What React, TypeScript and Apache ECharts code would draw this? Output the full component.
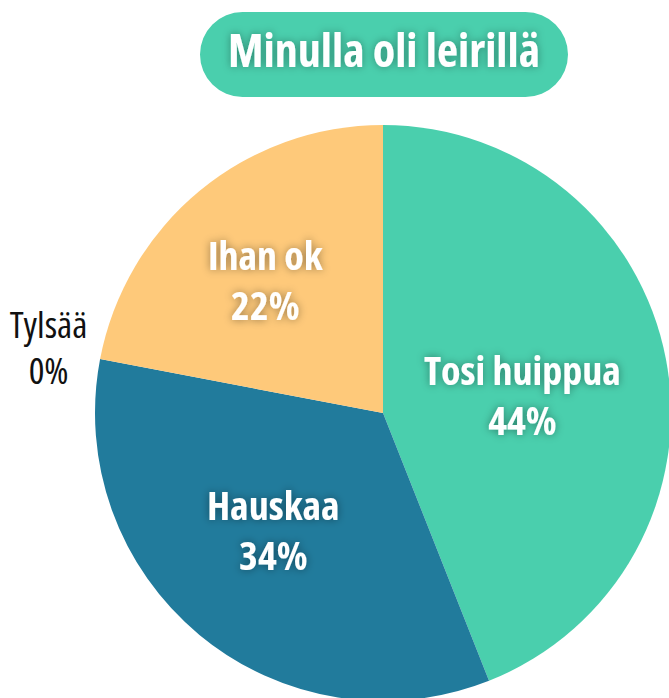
import React, { useEffect, useRef } from "react";
import * as echarts from "echarts";

const titleText = "Minulla oli leirillä";
const categories = ["Tosi huippua", "Hauskaa", "Tylsää", "Ihan ok"];
const values = [44, 34, 0, 22];
const colors = ["#4ACFAD", "#217B9C", "#F0F0F0", "#FEC97A"];
const labelOffsets: [number, number][] = [[-5, 9], [-16, 3], [-190, -39], [-24, -20]];

const FONT = "'Open Sans', 'DejaVu Sans Condensed', sans-serif";

export default function App() {
  const ref = useRef<HTMLDivElement>(null);
  useEffect(() => {
    if (!ref.current) return;
    const chart = echarts.init(ref.current, undefined, { renderer: "svg" });
    const data = categories.map((name, i) => {
      const zero = values[i] === 0;
      return {
        name,
        value: values[i],
        itemStyle: { color: colors[i] },
        label: zero
          ? {
              color: "#111",
              fontWeight: "normal",
              fontSize: 37,
              lineHeight: 46,
              textShadowBlur: 0,
              textShadowColor: "transparent",
              offset: labelOffsets[i],
            }
          : { offset: labelOffsets[i] },
      };
    });
    chart.setOption({
      animation: false,
      backgroundColor: "#ffffff",
      graphic: [
        {
          type: "group",
          children: [
            {
              type: "rect",
              shape: { x: 200, y: 12, width: 368, height: 85, r: 42.5 },
              style: { fill: "#4ACFAD" },
            },
            {
              type: "text",
              x: 384,
              y: 49,
              style: {
                text: titleText,
                fill: "#ffffff",
                font: `condensed bold 46px ${FONT}`,
                textAlign: "center",
                textVerticalAlign: "middle",
                textShadowColor: "rgba(0,0,0,0.35)",
                textShadowBlur: 8,
              },
            },
          ],
        },
      ],
      series: [
        {
          type: "pie",
          center: [383, 413],
          radius: 288,
          startAngle: 90,
          clockwise: true,
          avoidLabelOverlap: false,
          silent: true,
          itemStyle: { borderWidth: 0 },
          label: {
            show: true,
            position: "inner",
            formatter: (p: any) => `${p.name}\n${Math.round(p.percent)}%`,
            color: "#ffffff",
            fontFamily: FONT,
            fontWeight: "bold",
            fontSize: 40,
            lineHeight: 50,
            align: "center",
            textShadowColor: "rgba(0,0,0,0.4)",
            textShadowBlur: 8,
          },
          labelLine: { show: false },
          emphasis: { disabled: true },
          data,
        },
      ],
    });
    return () => chart.dispose();
  }, []);
  return (
    <>
      <style>{".condensed-chart text{font-stretch:condensed;}"}</style>
      <div
        ref={ref}
        className="condensed-chart"
        style={{ position: "fixed", left: 0, top: 0, width: 669, height: 698 }}
      />
    </>
  );
}
